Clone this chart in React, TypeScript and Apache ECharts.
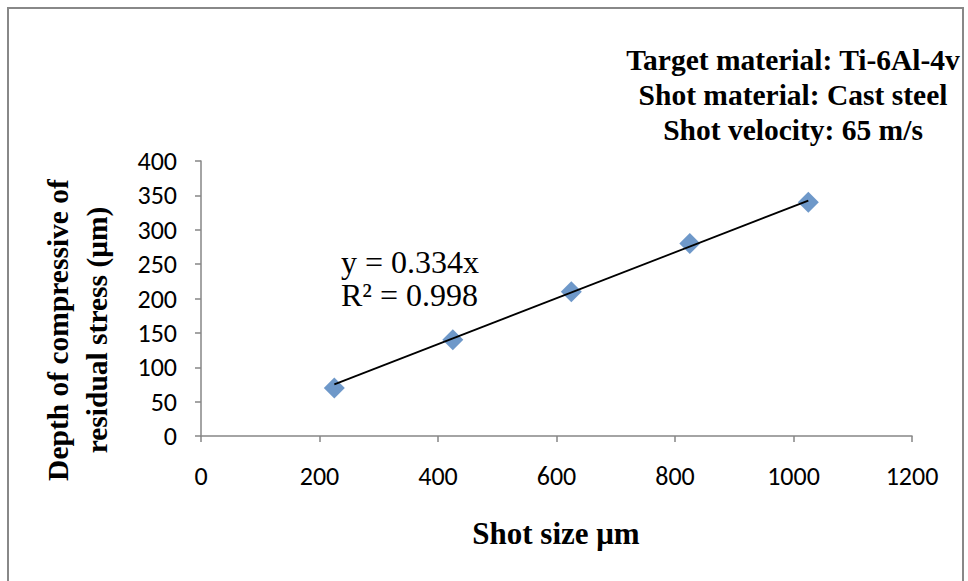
import React, { useEffect, useRef } from "react";
import * as echarts from "echarts";

const shotSize = [225, 425, 625, 825, 1025];
const depth = [70, 140, 210, 280, 340];
const trendX = [225, 1025];
const slope = 0.334;
const rSquared = 0.998;
const annotationLines = [
  "Target material: Ti-6Al-4v",
  "Shot material: Cast steel",
  "Shot velocity: 65 m/s",
];
const xTitle = "Shot size μm";
const yTitleLines = ["Depth of compressive of", "residual stress (μm)"];

const serif = "'Liberation Serif', 'Times New Roman', serif";
const tickFont = "Carlito, Lato, sans-serif";

export default function App() {
  const ref = useRef<HTMLDivElement>(null);
  useEffect(() => {
    document.body.style.margin = "0";
    if (!ref.current) return;
    const chart = echarts.init(ref.current, undefined, { renderer: "svg" });
    const scatterData = shotSize.map((x, i) => [x, depth[i]]);
    const trendData = trendX.map((x) => [x, +(slope * x).toFixed(2)]);
    chart.setOption({
      animation: false,
      backgroundColor: "#ffffff",
      grid: { left: 201, right: 56, top: 161, bottom: 145, containLabel: false },
      xAxis: {
        type: "value",
        min: 0,
        max: 1200,
        interval: 200,
        axisLine: { show: true, lineStyle: { color: "#868686", width: 1.5 } },
        axisTick: { show: true, length: 6, lineStyle: { color: "#868686", width: 1.5 } },
        axisLabel: {
          color: "#000",
          fontFamily: tickFont,
          fontSize: 26,
          margin: 27,
          formatter: (v: number) => String(v),
        },
        splitLine: { show: false },
      },
      yAxis: {
        type: "value",
        min: 0,
        max: 400,
        interval: 50,
        axisLine: { show: true, lineStyle: { color: "#868686", width: 1.5 } },
        axisTick: { show: true, length: 6, lineStyle: { color: "#868686", width: 1.5 } },
        axisLabel: {
          color: "#000",
          fontFamily: tickFont,
          fontSize: 26,
          margin: 24,
          formatter: (v: number) => String(v),
        },
        splitLine: { show: false },
      },
      series: [
        {
          type: "line",
          data: trendData,
          symbol: "none",
          lineStyle: { color: "#000", width: 1.8 },
          z: 3,
        },
        {
          type: "scatter",
          data: scatterData,
          symbol: "diamond",
          symbolSize: 21,
          itemStyle: { color: "#4A7EBB" },
          z: 2,
        },
      ],
      graphic: [
        {
          type: "rect",
          shape: { x: 8, y: 8, width: 955, height: 600 },
          style: { fill: "none", stroke: "#888888", lineWidth: 2 },
          silent: true,
          z: -1,
        },
        {
          type: "text",
          x: 793,
          y: 95,
          style: {
            text: annotationLines.join("\n"),
            font: `bold 29.5px ${serif}`,
            fill: "#000",
            textAlign: "center",
            textVerticalAlign: "middle",
            lineHeight: 35,
          },
        },
        {
          type: "text",
          x: 341,
          y: 278,
          style: {
            text: `y = ${slope}x\nR² = ${rSquared}`,
            font: `32px ${serif}`,
            fill: "#000",
            textAlign: "left",
            textVerticalAlign: "middle",
            lineHeight: 33,
          },
        },
        {
          type: "text",
          x: 556,
          y: 533,
          style: {
            text: xTitle,
            font: `bold 31px ${serif}`,
            fill: "#000",
            textAlign: "center",
            textVerticalAlign: "middle",
          },
        },
        {
          type: "text",
          x: 77,
          y: 330,
          rotation: Math.PI / 2,
          style: {
            text: yTitleLines.join("\n"),
            font: `bold 29.5px ${serif}`,
            fill: "#000",
            textAlign: "center",
            textVerticalAlign: "middle",
            lineHeight: 39,
          },
        },
      ],
    });
    return () => chart.dispose();
  }, []);
  return <div ref={ref} style={{ width: 968, height: 581 }} />;
}
